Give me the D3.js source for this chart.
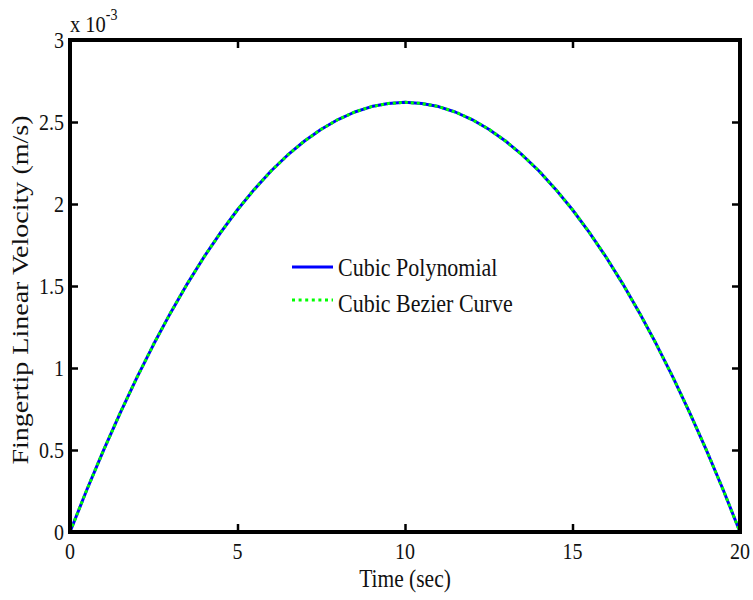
<!DOCTYPE html>
<html>
<head>
<meta charset="utf-8">
<script src="https://cdn.jsdelivr.net/npm/d3@7"></script>
<style>
  html, body { margin: 0; padding: 0; background: #fff; }
  svg { display: block; }
  text { font-family: "Liberation Serif", "Times New Roman", serif; fill: #111; }
</style>
</head>
<body>
<svg id="chart" width="753" height="600"></svg>
<script>
// Time samples (s)
const timeSec = [0, 0.5, 1, 1.5, 2, 2.5, 3, 3.5, 4, 4.5, 5, 5.5, 6, 6.5, 7, 7.5, 8, 8.5, 9, 9.5,
  10, 10.5, 11, 11.5, 12, 12.5, 13, 13.5, 14, 14.5, 15, 15.5, 16, 16.5, 17, 17.5, 18, 18.5, 19, 19.5, 20];

// Fingertip linear velocity, in units of 1e-3 m/s
const cubicPolynomial = [0, 0.256, 0.498, 0.727, 0.943, 1.146, 1.336, 1.513, 1.677, 1.827, 1.965,
  2.089, 2.201, 2.299, 2.384, 2.456, 2.515, 2.561, 2.594, 2.613, 2.620,
  2.613, 2.594, 2.561, 2.515, 2.456, 2.384, 2.299, 2.201, 2.089, 1.965,
  1.827, 1.677, 1.513, 1.336, 1.146, 0.943, 0.727, 0.498, 0.256, 0];
const cubicBezier = [0, 0.256, 0.498, 0.727, 0.943, 1.146, 1.336, 1.513, 1.677, 1.827, 1.965,
  2.089, 2.201, 2.299, 2.384, 2.456, 2.515, 2.561, 2.594, 2.613, 2.620,
  2.613, 2.594, 2.561, 2.515, 2.456, 2.384, 2.299, 2.201, 2.089, 1.965,
  1.827, 1.677, 1.513, 1.336, 1.146, 0.943, 0.727, 0.498, 0.256, 0];

const xTicks = [0, 5, 10, 15, 20];
const yTicks = [0, 0.5, 1, 1.5, 2, 2.5, 3];
const legendLabels = ["Cubic Polynomial", "Cubic Bezier Curve"];
const xLabel = "Time (sec)";
const yLabel = "Fingertip Linear Velocity (m/s)";

const svg = d3.select("#chart");
const plot = { left: 70, right: 740, top: 40, bottom: 532 };
const vStretch = 1.17;

const x = d3.scaleLinear().domain([0, 20]).range([plot.left, plot.right]);
const y = d3.scaleLinear().domain([0, 3]).range([plot.bottom, plot.top]);

// Curves
const line = d3.line().x((d, i) => x(timeSec[i])).y(d => y(d));

svg.append("path")
  .datum(cubicPolynomial)
  .attr("d", line)
  .attr("fill", "none")
  .attr("stroke", "#0000ff")
  .attr("stroke-width", 3)
  .attr("stroke-linejoin", "round");

svg.append("path")
  .datum(cubicBezier)
  .attr("d", line)
  .attr("fill", "none")
  .attr("stroke", "#00ff00")
  .attr("stroke-width", 3)
  .attr("stroke-dasharray", "3,3");

// Axes: inward ticks on all four sides, no default labels
const tickLen = 8;
const axisColor = "#000";

function styleAxis(g) {
  g.select(".domain").remove();
  g.selectAll(".tick line").attr("stroke", axisColor).attr("stroke-width", 2.5);
  g.selectAll(".tick text").remove();
}

svg.append("g").attr("transform", `translate(0,${plot.bottom})`)
  .call(d3.axisBottom(x).tickValues(xTicks).tickSizeInner(-tickLen).tickSizeOuter(0)).call(styleAxis);
svg.append("g").attr("transform", `translate(0,${plot.top})`)
  .call(d3.axisTop(x).tickValues(xTicks).tickSizeInner(-tickLen).tickSizeOuter(0)).call(styleAxis);
svg.append("g").attr("transform", `translate(${plot.left},0)`)
  .call(d3.axisLeft(y).tickValues(yTicks).tickSizeInner(-tickLen).tickSizeOuter(0)).call(styleAxis);
svg.append("g").attr("transform", `translate(${plot.right},0)`)
  .call(d3.axisRight(y).tickValues(yTicks).tickSizeInner(-tickLen).tickSizeOuter(0)).call(styleAxis);

// Box
svg.append("rect")
  .attr("x", plot.left).attr("y", plot.top)
  .attr("width", plot.right - plot.left).attr("height", plot.bottom - plot.top)
  .attr("fill", "none").attr("stroke", axisColor).attr("stroke-width", 4);

// Tick labels
const tickFont = 20;
svg.append("g").selectAll("text").data(xTicks).join("text")
  .attr("transform", d => `translate(${x(d)},559) scale(1,${vStretch})`)
  .attr("text-anchor", "middle")
  .attr("font-size", tickFont)
  .text(d => d);

svg.append("g").selectAll("text").data(yTicks).join("text")
  .attr("transform", d => `translate(64,${y(d) + 7.8}) scale(1,${vStretch})`)
  .attr("text-anchor", "end")
  .attr("font-size", tickFont)
  .text(d => d);

// Exponent label
const expo = svg.append("text")
  .attr("transform", `translate(70,32) scale(1,${vStretch})`)
  .attr("font-size", 20.5);
expo.append("tspan").text("x 10");
expo.append("tspan").attr("font-size", 14).attr("dy", -10).text("-3");

// Axis titles
svg.append("text")
  .attr("transform", `translate(405,587) scale(1,${vStretch})`)
  .attr("text-anchor", "middle")
  .attr("font-size", 21.5)
  .text(xLabel);

svg.append("text")
  .attr("transform", `translate(28,290) rotate(-90) scale(1.22,1)`)
  .attr("text-anchor", "middle")
  .attr("font-size", 23)
  .text(yLabel);

// Legend
const legend = svg.append("g");
const legendRows = [
  { label: legendLabels[0], color: "#0000ff", dash: null, ly: 267, ty: 276 },
  { label: legendLabels[1], color: "#00ff00", dash: "3,3.6", ly: 300, ty: 312 }
];
legendRows.forEach(r => {
  legend.append("line")
    .attr("x1", 292).attr("x2", 333).attr("y1", r.ly).attr("y2", r.ly)
    .attr("stroke", r.color).attr("stroke-width", 3)
    .attr("stroke-dasharray", r.dash);
  legend.append("text")
    .attr("transform", `translate(338,${r.ty}) scale(1,${vStretch})`)
    .attr("font-size", 22)
    .text(r.label);
});
</script>
</body>
</html>
